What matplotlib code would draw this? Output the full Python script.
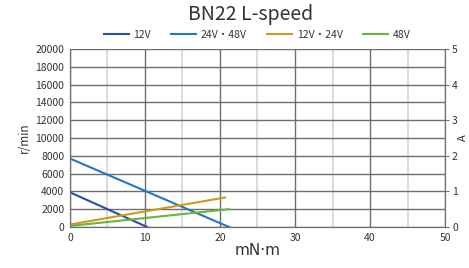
import numpy as np
import matplotlib
matplotlib.use('Agg')
import matplotlib.pyplot as plt
from matplotlib.ticker import MultipleLocator

plt.rcParams['font.family'] = ['Noto Sans CJK JP', 'DejaVu Sans']

# speed lines (r/min) vs torque (mN·m)
torque_12v = [0, 10.3]
speed_12v = [3900, 0]
torque_24_48v = [0, 21.2]
speed_24_48v = [7700, 0]
# current lines (A)
torque_12_24v_a = [0, 20.7]
current_12_24v = [0.07, 0.83]
torque_48v_a = [0, 21.2]
current_48v = [0.03, 0.50]

fig = plt.figure(figsize=(4.69, 2.68), dpi=100)
ax = fig.add_axes([0.149, 0.153, 0.8, 0.664])
ax2 = ax.twinx()

ax.set_xlim(0, 50)
ax.set_ylim(0, 20000)
ax2.set_ylim(0, 5)

ax.xaxis.set_major_locator(MultipleLocator(10))
ax.xaxis.set_minor_locator(MultipleLocator(5))
ax.yaxis.set_major_locator(MultipleLocator(2000))
ax2.yaxis.set_major_locator(MultipleLocator(1))

ax.grid(True, which='minor', axis='x', color='#d4d4d4', lw=1.2)
ax.grid(True, which='major', axis='x', color='#6e6e6e', lw=1.0)
ax.grid(True, which='major', axis='y', color='#6e6e6e', lw=1.0)
ax.set_axisbelow(True)

l1, = ax.plot(torque_12v, speed_12v, color='#2b4f9e', lw=1.5, label='12V')
l2, = ax.plot(torque_24_48v, speed_24_48v, color='#2277c4', lw=1.5, label='24V・48V')
l3, = ax2.plot(torque_12_24v_a, current_12_24v, color='#cc9a1f', lw=1.5, label='12V・24V')
l4, = ax2.plot(torque_48v_a, current_48v, color='#6db33f', lw=1.5, label='48V')

for a in (ax, ax2):
    for s in a.spines.values():
        s.set_color('#6e6e6e')
    a.spines['top'].set_visible(False)

ax.tick_params(axis='both', which='both', length=0, labelsize=7.5, colors='#333333', pad=4)
ax.tick_params(axis='x', which='minor', length=0)
ax2.tick_params(axis='y', length=3, width=0.8, color='#6e6e6e', labelsize=7.5, labelcolor='#333333', pad=2)

ax.set_xlabel('mN·m', fontsize=11, color='#333333', labelpad=0, family=['DejaVu Sans'])
ax.set_ylabel('r/min', fontsize=8.5, color='#333333', labelpad=3)
ax2.set_ylabel('A', fontsize=8, color='#333333', labelpad=0)

fig.text(0.535, 0.945, 'BN22 L-speed', ha='center', va='center', fontsize=14, color='#333333')

fig.legend(handles=[l1, l2, l3, l4], loc='center', bbox_to_anchor=(0.548, 0.87),
           ncol=4, frameon=False, fontsize=7.5, handlelength=2.4, handletextpad=0.4,
           columnspacing=2.0, labelcolor='#333333')

fig.savefig('out.png', dpi=100)
